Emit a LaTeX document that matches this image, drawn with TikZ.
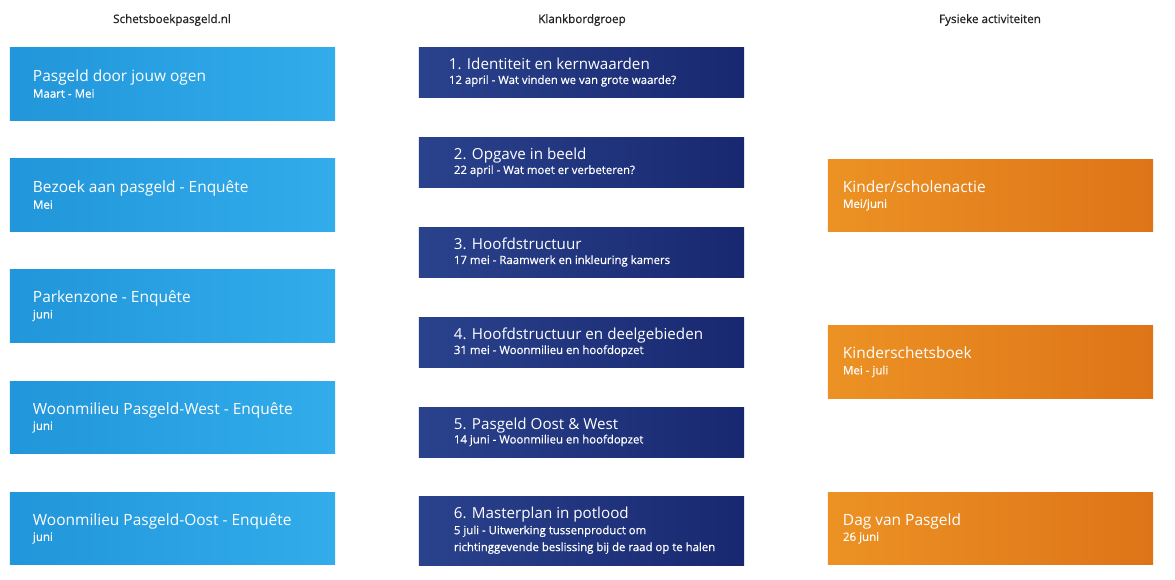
\documentclass[tikz,border=0pt]{standalone}
\usepackage{fontspec}
\setmainfont{Open Sans}
\newfontfamily\semifont[FakeBold=0.6]{Open Sans}
\usepackage{tikz}
\usetikzlibrary{positioning}

\definecolor{lblue}{RGB}{40,163,228}
\definecolor{lbluedark}{RGB}{33,150,218}
\definecolor{lbluelight}{RGB}{50,172,235}
\definecolor{dbluelight}{RGB}{42,66,140}
\definecolor{dbluedark}{RGB}{24,40,112}
\definecolor{oralight}{RGB}{236,146,36}
\definecolor{oradark}{RGB}{222,116,24}
\definecolor{headgray}{RGB}{35,35,35}

\begin{document}
\begin{tikzpicture}[x=0.025cm, y=-0.025cm,
  head/.style={text=headgray, font=\semifont\fontsize{8.3}{9}\selectfont, inner sep=0},
  lbox/.style={left color=lbluedark, right color=lbluelight, minimum width=8.125cm, minimum height=1.8cm, inner sep=0},
  dbox/.style={left color=dbluelight, right color=dbluedark, minimum width=8.125cm, minimum height=1.25cm, inner sep=0},
  obox/.style={left color=oralight, right color=oradark, minimum width=8.125cm, minimum height=1.8cm, inner sep=0},
  ltxt/.style={text=white, align=left, inner sep=0, font=\semifont\fontsize{8.2}{11.2}\selectfont},
  dtxt/.style={text=white, align=left, inner sep=0, font=\semifont\fontsize{8.1}{10}\selectfont}]

  % Frame
  \useasboundingbox (0,0) rectangle (1175,579);

  % Column heads
  \node[head] (h1) at (172,20) {Schetsboekpasgeld.nl};
  \node[head] (h2) at (582,20) {Klankbordgroep};
  \node[head] (h3) at (990,20) {Fysieke activiteiten};

  % Schetsboekpasgeld.nl
  \node[lbox] (s1) at (172.5,84) {};
  \node[ltxt, right=0.575cm of s1.west] (s1t) {{\rmfamily\fontsize{11}{13}\selectfont Pasgeld door jouw ogen}\\Maart - Mei};
  \node[lbox] (s2) at (172.5,195) {};
  \node[ltxt, right=0.575cm of s2.west] (s2t) {{\rmfamily\fontsize{11}{13}\selectfont Bezoek aan pasgeld - Enquête}\\Mei};
  \node[lbox] (s3) at (172.5,306) {};
  \node[ltxt, right=0.575cm of s3.west] (s3t) {{\rmfamily\fontsize{11}{13}\selectfont Parkenzone - Enquête}\\juni};
  \node[lbox] (s4) at (172.5,417.5) {};
  \node[ltxt, right=0.575cm of s4.west] (s4t) {{\rmfamily\fontsize{11}{13}\selectfont Woonmilieu Pasgeld-West - Enquête}\\juni};
  \node[lbox] (s5) at (172.5,528.5) {};
  \node[ltxt, right=0.575cm of s5.west] (s5t) {{\rmfamily\fontsize{11}{13}\selectfont Woonmilieu Pasgeld-Oost - Enquête}\\juni};

  % Klankbordgroep
  \node[dbox] (k1) at (581.5,72.5) {};
  \node[dtxt, right=0.75cm of k1.west] (k1t) {{\rmfamily\fontsize{10.8}{13}\selectfont 1. Identiteit en kernwaarden}\\12 april - Wat vinden we van grote waarde?};
  \node[dbox] (k2) at (581.5,162.5) {};
  \node[dtxt, right=0.875cm of k2.west] (k2t) {{\rmfamily\fontsize{10.8}{13}\selectfont 2. Opgave in beeld}\\22 april - Wat moet er verbeteren?};
  \node[dbox] (k3) at (581.5,252.5) {};
  \node[dtxt, right=0.875cm of k3.west] (k3t) {{\rmfamily\fontsize{10.8}{13}\selectfont 3. Hoofdstructuur}\\17 mei - Raamwerk en inkleuring kamers};
  \node[dbox] (k4) at (581.5,342.5) {};
  \node[dtxt, right=0.875cm of k4.west] (k4t) {{\rmfamily\fontsize{10.8}{13}\selectfont 4. Hoofdstructuur en deelgebieden}\\31 mei - Woonmilieu en hoofdopzet};
  \node[dbox] (k5) at (581.5,432) {};
  \node[dtxt, right=0.875cm of k5.west] (k5t) {{\rmfamily\fontsize{10.8}{13}\selectfont 5. Pasgeld Oost \& West}\\14 juni - Woonmilieu en hoofdopzet};
  \node[dbox, minimum height=1.725cm] (k6) at (581.5,530.5) {};
  \node[dtxt, right=0.875cm of k6.west] (k6t) {{\rmfamily\fontsize{10.8}{13}\selectfont 6. Masterplan in potlood}\\[1pt]5 juli - Uitwerking tussenproduct om\\[2pt]richtinggevende beslissing bij de raad op te halen};

  % Fysieke activiteiten
  \node[obox] (f1) at (990.5,195.5) {};
  \node[ltxt, right=0.375cm of f1.west] (f1t) {{\rmfamily\fontsize{11}{13}\selectfont Kinder/scholenactie}\\Mei/juni};
  \node[obox] (f2) at (990.5,362) {};
  \node[ltxt, right=0.375cm of f2.west] (f2t) {{\rmfamily\fontsize{11}{13}\selectfont Kinderschetsboek}\\Mei - juli};
  \node[obox] (f3) at (990.5,528.5) {};
  \node[ltxt, right=0.375cm of f3.west] (f3t) {{\rmfamily\fontsize{11}{13}\selectfont Dag van Pasgeld}\\26 juni};
\end{tikzpicture}
\end{document}
